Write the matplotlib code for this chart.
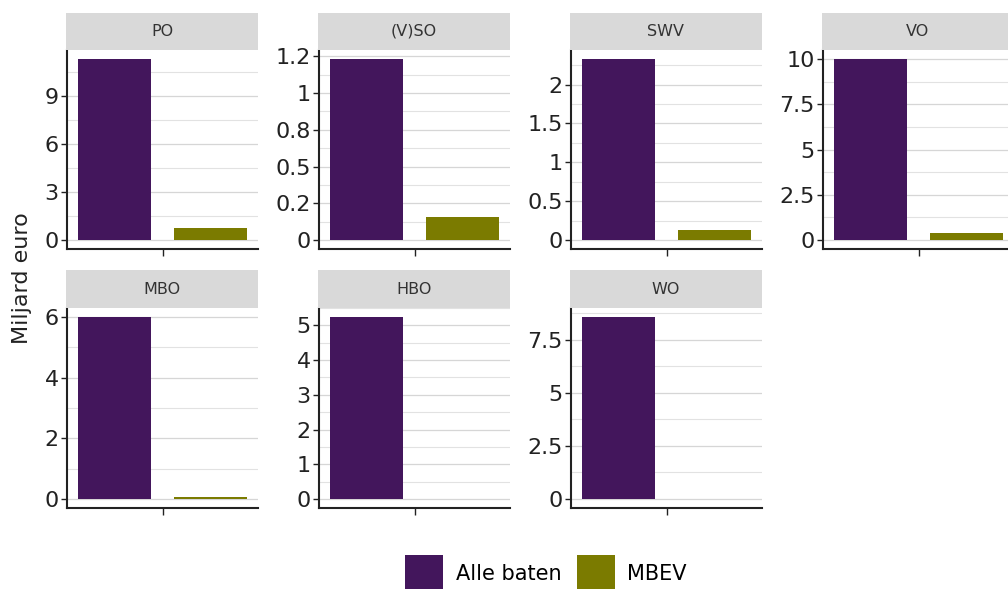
import matplotlib
matplotlib.use("Agg")
import matplotlib.pyplot as plt
from matplotlib.patches import Patch

# --- data (miljard euro) ---
panels = ["PO", "(V)SO", "SWV", "VO", "MBO", "HBO", "WO"]
alle_baten = [11.33, 1.232, 2.33, 10.0, 6.0, 5.24, 8.58]
mbev = [0.73, 0.153, 0.13, 0.36, 0.05, 0.0, 0.0]

# y breaks per panel and their labels (ggplot-style rounding on (V)SO)
major_ticks = [
    [0, 3, 6, 9],
    [0, 0.25, 0.5, 0.75, 1, 1.25],
    [0, 0.5, 1, 1.5, 2],
    [0, 2.5, 5, 7.5, 10],
    [0, 2, 4, 6],
    [0, 1, 2, 3, 4, 5],
    [0, 2.5, 5, 7.5],
]
major_labels = [
    ["0", "3", "6", "9"],
    ["0", "0.2", "0.5", "0.8", "1", "1.2"],
    ["0", "0.5", "1", "1.5", "2"],
    ["0", "2.5", "5", "7.5", "10"],
    ["0", "2", "4", "6"],
    ["0", "1", "2", "3", "4", "5"],
    ["0", "2.5", "5", "7.5"],
]
series_names = ["Alle baten", "MBEV"]
colors = ["#43165c", "#7b7b00"]

W, H = 1008, 589
fig = plt.figure(figsize=(W / 100, H / 100), dpi=100)
plt.rcParams["font.family"] = "DejaVu Sans"

col_left = [67, 319, 571, 823]
panel_w = 191
rows = [(50, 249, 13), (308, 508, 270)]  # axes top, axes bottom, strip top (px from top)

for i, name in enumerate(panels):
    r, c = divmod(i, 4)
    top, bot, strip_top = rows[r]
    x0 = col_left[c]
    ax = fig.add_axes([x0 / W, (H - bot) / H, panel_w / W, (bot - top) / H])

    # strip header
    sax = fig.add_axes([(x0 - 1) / W, (H - top) / H, (panel_w + 1) / W, (top - strip_top) / H])
    sax.set_facecolor("#d9d9d9")
    sax.set_xticks([])
    sax.set_yticks([])
    for s in sax.spines.values():
        s.set_visible(False)
    sax.text(0.5, 0.5, name, ha="center", va="center", fontsize=11.5, color="#333333",
             transform=sax.transAxes)

    vals = [alle_baten[i], mbev[i]]
    ax.bar([-0.3, 0.3], vals, width=0.46, color=colors, zorder=3)

    m = max(vals)
    ax.set_ylim(-0.05 * m, 1.05 * m)
    ax.set_xlim(-0.6, 0.6)

    maj = major_ticks[i]
    step = maj[1] - maj[0]
    minors = [t + step / 2 for t in maj if t + step / 2 < 1.05 * m]
    ax.set_yticks(maj)
    ax.set_yticklabels(major_labels[i])
    ax.set_yticks(minors, minor=True)
    ax.set_xticks([0])
    ax.set_xticklabels([""])

    ax.grid(True, axis="y", which="major", color="#d6d6d6", lw=0.9, zorder=0)
    ax.grid(True, axis="y", which="minor", color="#e2e2e2", lw=0.8, zorder=0)
    ax.tick_params(axis="y", which="major", labelsize=16, length=4, width=1,
                   color="#222222", labelcolor="#222222", pad=2)
    ax.tick_params(axis="y", which="minor", length=0)
    ax.tick_params(axis="x", length=5, width=1, color="#222222")

    for s in ["top", "right"]:
        ax.spines[s].set_visible(False)
    for s in ["left", "bottom"]:
        ax.spines[s].set_color("#222222")
        ax.spines[s].set_linewidth(1.5)

fig.text(22 / W, 1 - 278 / H, "Miljard euro", rotation=90, ha="center", va="center",
         fontsize=16, color="#222222")

handles = [Patch(facecolor=c, edgecolor="none") for c in colors]
fig.legend(handles, series_names, loc="center", bbox_to_anchor=(546 / W, 1 - 574 / H),
           ncol=2, frameon=False, fontsize=15, handlelength=1.83, handleheight=2.43,
           handletextpad=0.6, columnspacing=0.72, borderpad=0)

fig.savefig("out.png", dpi=100)
